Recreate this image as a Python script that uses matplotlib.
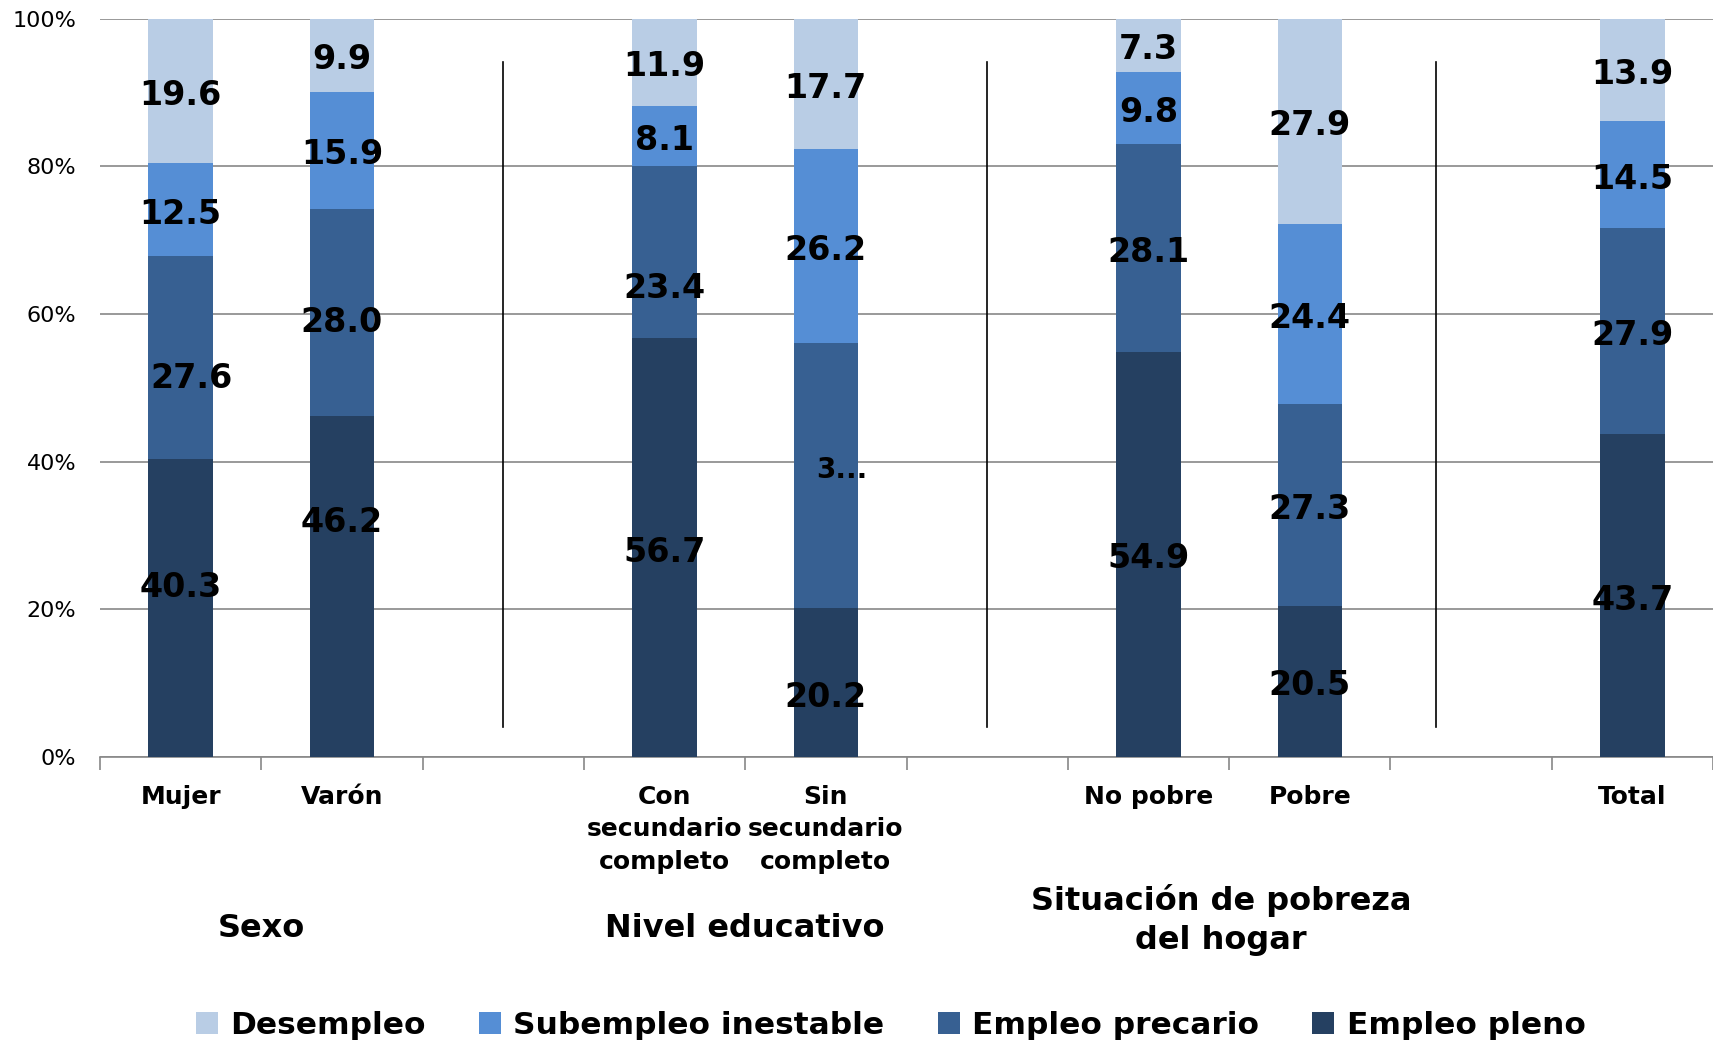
import numpy as np
import matplotlib.pyplot as plt

# categories (empty strings are the spacer slots between groups)
categories = ["Mujer", "Varón", "", "Con\nsecundario\ncompleto", "Sin\nsecundario\ncompleto",
              "", "No pobre", "Pobre", "", "Total"]
slots = [0, 1, 3, 4, 6, 7, 9]

pleno = [40.3, 46.2, 56.7, 20.2, 54.9, 20.5, 43.7]
precario = [27.6, 28.0, 23.4, 35.9, 28.1, 27.3, 27.9]
subempleo = [12.5, 15.9, 8.1, 26.2, 9.8, 24.4, 14.5]
desempleo = [19.6, 9.9, 11.9, 17.7, 7.3, 27.9, 13.9]

series = [("Empleo pleno", pleno, "#254061"),
          ("Empleo precario", precario, "#376092"),
          ("Subempleo inestable", subempleo, "#558ED5"),
          ("Desempleo", desempleo, "#B9CDE5")]

groups = [("Sexo", 0.5, -172), ("Nivel educativo", 3.5, -172),
          ("Situación de pobreza\ndel hogar", 6.45, -163)]
separators = [2.0, 5.0, 7.78]

# hand-placed labels in the original (slot, series) -> (dx, dy in %)
nudge = {(0, "Empleo pleno"): (0.0, 3.4), (0, "Empleo precario"): (0.07, -2.2),
         (1, "Empleo pleno"): (0.0, 9.2), (1, "Empleo precario"): (0.0, -0.7),
         (3, "Empleo precario"): (0.0, -4.3), (4, "Empleo pleno"): (0.0, -1.4),
         (4, "Empleo precario"): (0.1, 1.3)}

plt.rcParams['font.family'] = ['DejaVu Sans']

fig = plt.figure(figsize=(17.13, 10.44), dpi=100)
ax = fig.add_axes([0.0584, 0.275, 0.9416, 0.707])

bottom = np.zeros(len(slots))
handles = []
for name, vals, col in series:
    vals = np.array(vals)
    b = ax.bar(slots, vals, width=0.4, bottom=bottom, color=col, label=name, zorder=3)
    handles.append(b)
    for x, v, y0 in zip(slots, vals, bottom):
        dx, dy = nudge.get((x, name), (0.0, 0.0))
        ypos = y0 + v / 2 + dy - 0.6
        if name == "Empleo precario" and x == 4:
            ax.text(x + dx, ypos, "3...", ha="center", va="center",
                    fontsize=20, fontweight="bold", zorder=5)
        else:
            ax.text(x + dx, ypos, f"{v:.1f}", ha="center", va="center",
                    fontsize=24, fontweight="bold", zorder=5)
    bottom = bottom + vals

for s in separators:
    ax.plot([s, s], [4.1, 94.1], color="black", lw=1.2, zorder=2)

ax.set_xlim(-0.5, 9.5)
ax.set_ylim(0, 100)
ax.set_yticks(np.arange(0, 101, 20))
ax.set_yticklabels([f"{v}%" for v in range(0, 101, 20)], fontsize=16)
ax.tick_params(axis="y", length=0, pad=17)
ax.yaxis.grid(True, color="#888888", lw=1.2, zorder=0)

ax.set_xticks(np.arange(-0.5, 10, 1))
ax.set_xticklabels([])
ax.tick_params(axis="x", which="major", length=9, color="#888888", width=1.2)
ax.set_xticks(np.arange(10), minor=True)
ax.set_xticklabels(categories, minor=True, fontsize=18, fontweight="bold", linespacing=1.45)
ax.tick_params(axis="x", which="minor", length=0, pad=20)

for sp in ["top", "right", "left"]:
    ax.spines[sp].set_visible(False)
ax.spines["bottom"].set_color("#888888")
ax.spines["bottom"].set_linewidth(1.2)

for label, gx, dy in groups:
    ax.annotate(label, xy=(gx, 0), xycoords="data", xytext=(0, dy), textcoords="offset pixels",
                ha="center", va="center", fontsize=23, fontweight="bold", linespacing=1.35,
                annotation_clip=False)

fig.legend(handles[::-1], [s[0] for s in series][::-1], loc="center",
           bbox_to_anchor=(0.52, 0.018), ncol=4, frameon=False,
           prop={"size": 22.5, "weight": "bold"}, handlelength=0.7, handleheight=0.7,
           handletextpad=0.4, columnspacing=1.7)

fig.savefig("out.png", dpi=100)
